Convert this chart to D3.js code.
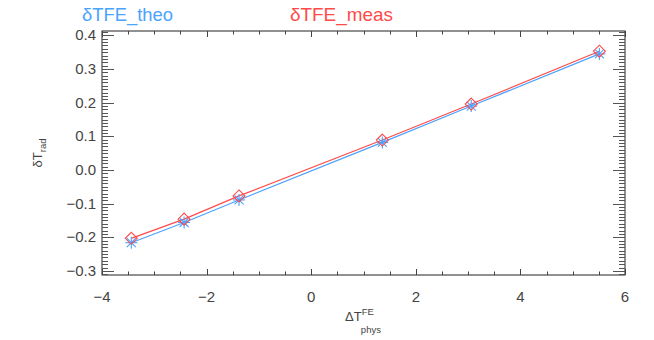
<!DOCTYPE html>
<html><head><meta charset="utf-8">
<script src="https://cdn.jsdelivr.net/npm/d3@7"></script>
<style>
body{margin:0;background:#fff;}
text{font-family:"Liberation Sans","DejaVu Sans",sans-serif;}
</style></head>
<body>
<svg id="c" width="654" height="340"></svg>
<script>
const xVals = [-3.44, -2.43, -1.38, 1.36, 3.06, 5.51];
const theo  = [-0.216, -0.156, -0.089, 0.082, 0.190, 0.345];
const meas  = [-0.203, -0.146, -0.077, 0.089, 0.196, 0.353];
const xTicks = [-4, -2, 0, 2, 4, 6];
const yTicks = [-0.3, -0.2, -0.1, 0.0, 0.1, 0.2, 0.3, 0.4];
const seriesNames = ["δTFE_theo", "δTFE_meas"];
const blue = "#4aa3ff", red = "#ff4a4a";

const svg = d3.select("#c");
const L = 102, R = 625, T = 31, B = 275;
const x = d3.scaleLinear().domain([-4, 6]).range([L, R]);
const y = d3.scaleLinear().domain([-0.312, 0.413]).range([B, T]);

const fmtX = d => (d < 0 ? "\u2212" : "") + Math.abs(d);
const fmtY = d => (d < -1e-9 ? "\u2212" : "") + Math.abs(d).toFixed(1);

// frame
svg.append("rect").attr("x", L).attr("y", T).attr("width", R - L).attr("height", B - T)
  .attr("fill", "none").attr("stroke", "#222").attr("stroke-width", 1);

// x ticks
const xMinor = d3.range(-4, 6.001, 0.5);
const gx = svg.append("g").attr("stroke", "#444").attr("stroke-width", 1);
xMinor.forEach(v => {
  const major = Math.abs(v / 2 - Math.round(v / 2)) < 1e-9;
  const len = major ? 6 : 3.5;
  const px = Math.round(x(v)) + 0.5;
  gx.append("line").attr("x1", px).attr("x2", px).attr("y1", B).attr("y2", B - len);
  gx.append("line").attr("x1", px).attr("x2", px).attr("y1", T).attr("y2", T + len);
});
// y ticks
const yMinor = d3.range(-31, 42, 1).map(k => k / 100);
const gy = svg.append("g").attr("stroke", "#555").attr("stroke-width", 1);
yMinor.forEach(v => {
  const major = Math.abs(v * 10 - Math.round(v * 10)) < 1e-6;
  const len = major ? 12 : 6;
  const py = Math.round(y(v)) + 0.5;
  gy.append("line").attr("x1", L).attr("x2", L + len).attr("y1", py).attr("y2", py);
  gy.append("line").attr("x1", R).attr("x2", R - len).attr("y1", py).attr("y2", py);
});

// tick labels
svg.append("g").selectAll("text").data(xTicks).join("text")
  .attr("x", d => x(d)).attr("y", 302).attr("text-anchor", "middle")
  .attr("font-size", 15).attr("fill", "#444").text(fmtX);
svg.append("g").selectAll("text").data(yTicks).join("text")
  .attr("x", 96).attr("y", d => y(d) + 5).attr("text-anchor", "end")
  .attr("font-size", 15).attr("fill", "#444").text(fmtY);

// axis titles
const xt = svg.append("text").attr("x", 363).attr("y", 321).attr("text-anchor", "middle")
  .attr("font-size", 13).attr("fill", "#444");
xt.append("tspan").text("\u0394T");
xt.append("tspan").attr("font-size", 9.5).attr("dy", -6).text("FE");
xt.append("tspan").attr("font-size", 9.5).attr("dx", -13).attr("dy", 18).text("phys");

const yt = svg.append("text").attr("transform", "translate(42,153) rotate(-90)")
  .attr("text-anchor", "middle").attr("font-size", 13).attr("fill", "#444");
yt.append("tspan").text("\u03b4T");
yt.append("tspan").attr("font-size", 9.5).attr("dy", 4).text("rad");

// lines
const line = vals => d3.line().x((d, i) => x(xVals[i])).y(d => y(d))(vals);
svg.append("path").attr("d", line(theo)).attr("fill", "none").attr("stroke", blue).attr("stroke-width", 1.2);
svg.append("path").attr("d", line(meas)).attr("fill", "none").attr("stroke", red).attr("stroke-width", 1.2);

// asterisks (blue)
const ga = svg.append("g").attr("stroke", blue).attr("stroke-width", 1.1);
theo.forEach((v, i) => {
  const cx = x(xVals[i]), cy = y(v), r = 6;
  ga.append("line").attr("x1", cx - r).attr("x2", cx + r).attr("y1", cy).attr("y2", cy);
  ga.append("line").attr("x1", cx).attr("x2", cx).attr("y1", cy - r).attr("y2", cy + r);
  ga.append("line").attr("x1", cx - r * 0.75).attr("x2", cx + r * 0.75).attr("y1", cy - r * 0.75).attr("y2", cy + r * 0.75);
  ga.append("line").attr("x1", cx - r * 0.75).attr("x2", cx + r * 0.75).attr("y1", cy + r * 0.75).attr("y2", cy - r * 0.75);
});
// diamonds (red)
const gd = svg.append("g").attr("stroke", red).attr("stroke-width", 1.1).attr("fill", "none");
meas.forEach((v, i) => {
  const cx = x(xVals[i]), cy = y(v), r = 6;
  gd.append("path").attr("d", `M${cx},${cy - r}L${cx + r},${cy}L${cx},${cy + r}L${cx - r},${cy}Z`);
});

// legend titles
svg.append("text").attr("x", 82).attr("y", 21).attr("font-size", 19).attr("fill", blue)
  .attr("textLength", 91).attr("lengthAdjust", "spacingAndGlyphs").text(seriesNames[0]);
svg.append("text").attr("x", 290).attr("y", 21).attr("font-size", 19).attr("fill", red)
  .attr("textLength", 103).attr("lengthAdjust", "spacingAndGlyphs").text(seriesNames[1]);
</script>
</body></html>
